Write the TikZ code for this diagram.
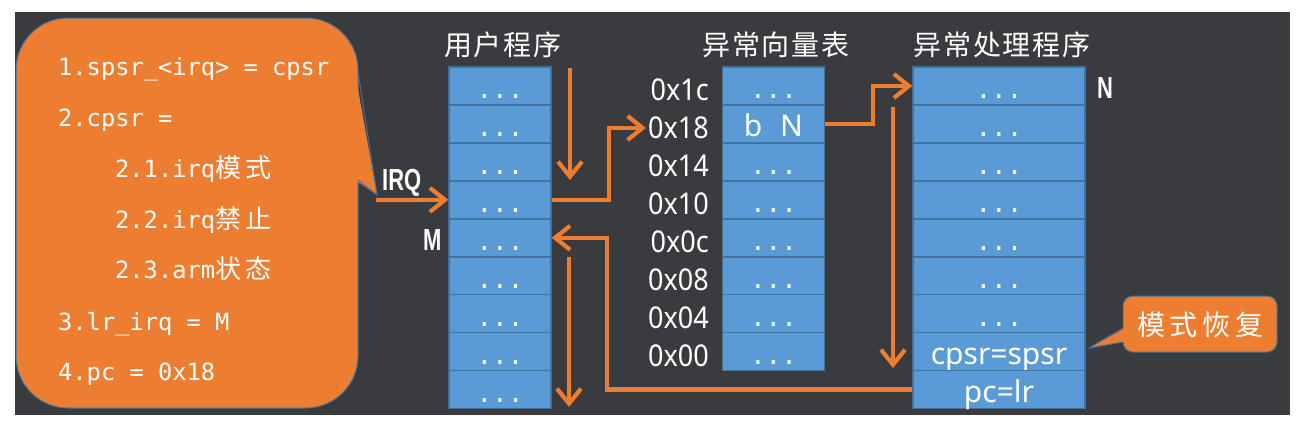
\documentclass[tikz,border=0pt]{standalone}
\usepackage{fontspec}
\setmainfont{Noto Sans}
\newfontfamily\cjk{Noto Sans CJK SC}
\newfontfamily\cjkw[LetterSpace=7]{Noto Sans CJK SC}
\newfontfamily\mono{DejaVu Sans Mono}
\newfontfamily\narrowf[FakeStretch=0.72]{Liberation Sans}
\newfontfamily\hexf[FakeStretch=0.9]{Noto Sans}
\usetikzlibrary{arrows.meta,calc}
\definecolor{bgC}{RGB}{58,59,63}
\definecolor{orangeC}{RGB}{237,125,49}
\definecolor{cellC}{RGB}{91,155,213}
\definecolor{edgeC}{RGB}{65,113,156}
\tikzset{
  cellbox/.style={draw=edgeC, fill=cellC, line width=1.5pt, inner sep=0pt,
    minimum height=37.95pt, text height=31.95pt, text depth=6pt, text=white},
  ucell/.style={cellbox, minimum width=102pt},
  vcell/.style={cellbox, minimum width=101.6pt},
  hcell/.style={cellbox, minimum width=172pt},
  dots/.style={font=\mono\fontsize{26}{26}\selectfont},
  celltxt/.style={font=\fontsize{30}{30}\selectfont},
  hexlab/.style={text=white, inner sep=2pt, anchor=base east, font=\hexf\fontsize{30}{30}\selectfont},
  coltitle/.style={text=white, inner sep=0pt, font=\cjkw\fontsize{28}{28}\selectfont},
  narrowlab/.style={text=white, inner sep=0pt, anchor=base west, font=\narrowf\bfseries\fontsize{30.5}{30.5}\selectfont},
  codeline/.style={text=white, inner sep=0pt, anchor=base west, font=\mono\fontsize{23.7}{23.7}\selectfont},
  arr/.style={draw=orangeC, line width=4.2pt, -{Straight Barb[length=15pt,width=24pt]}},
  callout/.style={draw=edgeC, fill=orangeC, line width=1pt},
}
\newcommand{\cj}[1]{{\cjk\fontsize{26}{26}\selectfont #1}}
\begin{document}
\begin{tikzpicture}[x=1pt,y=-1pt]
\fill[white] (0,0) rectangle (1308,429);
\useasboundingbox (0,0) rectangle (1308,429);
\fill[bgC] (15,12) rectangle (1290,415);

% left callout
\draw[callout, rounded corners=52pt] (16,18) rectangle (358,408);
\fill[orangeC] (355,72) -- (377,195) -- (355,180) -- cycle;
\draw[edgeC, line width=1pt] (358,72) -- (377,195) -- (358,180);
\node[codeline] (l1) at (58,75)  {1.spsr\_<irq> = cpsr};
\node[codeline] (l2) at (58,126) {2.cpsr =};
\node[codeline] (l3) at (115,177) {2.1.irq\cj{模\,式}};
\node[codeline] (l4) at (115,228) {2.2.irq\cj{禁\,止}};
\node[codeline] (l5) at (115,278) {2.3.arm\cj{状\,态}};
\node[codeline] (l6) at (58,330) {3.lr\_irq = M};
\node[codeline] (l7) at (58,380) {4.pc = 0x18};

% titles
\node[coltitle] (t1) at (503,45) {用户程序};
\node[coltitle] (t2) at (776,45) {异常向量表};
\node[coltitle] (t3) at (1002,45) {异常处理程序};

% user program column
\foreach \i in {1,...,9} {
  \node[ucell, dots] (u\i) at (500,{67+(\i-0.5)*37.95}) {...};
}
% vector table column
\foreach \i in {1,...,8} {
  \ifnum\i=2
    \node[vcell, celltxt] (v\i) at (773.5,{67+(\i-0.5)*37.95}) {b\hspace{10pt} N};
  \else
    \node[vcell, dots] (v\i) at (773.5,{67+(\i-0.5)*37.95}) {...};
  \fi
}
\foreach \i/\t in {1/1c,2/18,3/14,4/10,5/0c,6/08,7/04,8/00} {
  \node[hexlab] (x\i) at ($(v\i.south west)+(-11,-5)$) {0x\t};
}
% handler column
\foreach \i in {1,...,7} {
  \node[hcell, dots] (h\i) at (999,{67+(\i-0.5)*37.95}) {...};
}
\node[hcell, celltxt] (h8) at (999,{67+7.5*37.95}) {cpsr=spsr};
\node[hcell, celltxt] (h9) at (999,{67+8.5*37.95}) {pc=lr};

% side labels
\node[narrowlab] (irq) at (382,190) {IRQ};
\node[narrowlab] (m) at (423,250) {M};
\node[narrowlab] (n) at (1097,98) {N};

% arrows
\coordinate (irqs) at (376,200);
\draw[arr] (irqs) -- (u4.west);
\coordinate (d1s) at (570,68);
\coordinate (d1e) at (570,180);
\draw[arr] (d1s) -- (d1e);
\draw[arr] (u4.east) -- ++(57,0) |- (x2.west);
\draw[arr] (h9.west) -- ++(-305,0) |- (u5.east);
\coordinate (d2s) at (569,257);
\coordinate (d2e) at (569,407);
\draw[arr] (d2s) -- (d2e);
\draw[arr] (v2.east) -- ++(48,0) |- (h1.west);
\coordinate (d3s) at (893,107);
\coordinate (d3e) at (893,368);
\draw[arr] (d3s) -- (d3e);

% small callout
\draw[callout, rounded corners=10pt] (1123,296) rectangle (1277,352);
\fill[orangeC] (1125,328) -- (1089,348) -- (1125,342) -- cycle;
\draw[edgeC, line width=1pt] (1123,328) -- (1089,348) -- (1123,342);
\node[coltitle, font=\cjk\fontsize{28}{28}\selectfont] (mh) at (1200,325) {模\,式\,恢\,复};
\end{tikzpicture}
\end{document}
